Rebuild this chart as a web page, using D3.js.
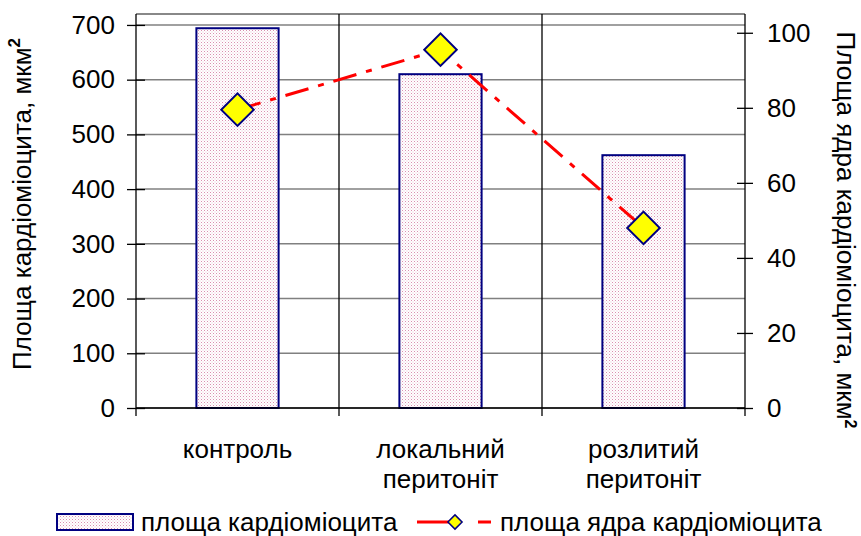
<!DOCTYPE html>
<html>
<head>
<meta charset="utf-8">
<script src="https://cdn.jsdelivr.net/npm/d3@7"></script>
<style>
  body { margin: 0; background: #fff; }
  text { font-family: "Liberation Sans", Arial, sans-serif; fill: #000; }
</style>
</head>
<body>
<div id="chart"></div>
<script>
// data
const categories = [["контроль"], ["локальний", "перитоніт"], ["розлитий", "перитоніт"]];
const cellArea = [694, 610, 462];      // площа кардіоміоцита, мкм2 (left axis)
const nucleusArea = [79.5, 95.5, 48];  // площа ядра кардіоміоцита, мкм2 (right axis)
const leftTicks = [0, 100, 200, 300, 400, 500, 600, 700];
const rightTicks = [0, 20, 40, 60, 80, 100];

const W = 861, H = 536;
const plot = {left: 136, right: 745, top: 14, bottom: 408};
const FS = "26px";

const svg = d3.select("#chart").append("svg")
    .attr("width", W).attr("height", H);

// dotted pink fill like the excel pattern
const pat = svg.append("defs").append("pattern")
    .attr("id", "dots").attr("patternUnits", "userSpaceOnUse")
    .attr("width", 3).attr("height", 3);
pat.append("rect").attr("width", 3).attr("height", 3).attr("fill", "#fff");
pat.append("rect").attr("x", 0).attr("y", 0).attr("width", 1).attr("height", 1).attr("fill", "#d98fb0");
pat.append("rect").attr("x", 1.5).attr("y", 1.5).attr("width", 1).attr("height", 1).attr("fill", "#e8c0d4");

const idx = categories.map((d, i) => i);
const x = d3.scaleBand().domain(idx).range([plot.left, plot.right]).paddingInner(0).paddingOuter(0);
const yL = d3.scaleLinear().domain([0, 720]).range([plot.bottom, plot.top]);
const yR = d3.scaleLinear().domain([0, 105]).range([plot.bottom, plot.top]);

// horizontal gridlines
svg.append("g").selectAll("line").data(leftTicks).join("line")
    .attr("x1", plot.left).attr("x2", plot.right)
    .attr("y1", d => yL(d)).attr("y2", d => yL(d))
    .attr("stroke", "#808080").attr("stroke-width", 1.5);

// top border
svg.append("line").attr("x1", plot.left).attr("x2", plot.right)
    .attr("y1", plot.top).attr("y2", plot.top)
    .attr("stroke", "#606060").attr("stroke-width", 1.5);

// vertical category separators (extend as ticks below axis)
svg.append("g").selectAll("line").data(idx.slice(1)).join("line")
    .attr("x1", d => x(d)).attr("x2", d => x(d))
    .attr("y1", plot.top).attr("y2", plot.bottom + 8)
    .attr("stroke", "#000").attr("stroke-width", 1.3);

// bars
const bw = x.bandwidth() * 0.405;
svg.append("g").selectAll("rect").data(cellArea).join("rect")
    .attr("x", (d, i) => x(i) + x.bandwidth() / 2 - bw / 2)
    .attr("width", bw)
    .attr("y", d => yL(d))
    .attr("height", d => yL(0) - yL(d))
    .attr("fill", "url(#dots)")
    .attr("stroke", "#000080").attr("stroke-width", 2);

// left axis
const gL = svg.append("g").attr("transform", `translate(${plot.left},0)`)
    .call(d3.axisLeft(yL).tickValues(leftTicks).tickSize(0).tickPadding(21));
gL.select(".domain").remove();
gL.selectAll("text").style("font-size", FS).attr("font-family", "Liberation Sans, Arial, sans-serif");
gL.selectAll(".tick").append("line").attr("x1", -9).attr("x2", 9).attr("stroke", "#000").attr("stroke-width", 1.3);
svg.append("line").attr("x1", plot.left).attr("x2", plot.left)
    .attr("y1", plot.top).attr("y2", plot.bottom + 8).attr("stroke", "#000").attr("stroke-width", 1.3);

// right axis
const gR = svg.append("g").attr("transform", `translate(${plot.right},0)`)
    .call(d3.axisRight(yR).tickValues(rightTicks).tickSize(0).tickPadding(22));
gR.select(".domain").remove();
gR.selectAll("text").style("font-size", FS).attr("font-family", "Liberation Sans, Arial, sans-serif");
gR.selectAll(".tick").append("line").attr("x1", -8).attr("x2", 8).attr("stroke", "#000").attr("stroke-width", 1.3);
svg.append("line").attr("x1", plot.right).attr("x2", plot.right)
    .attr("y1", plot.top).attr("y2", plot.bottom + 8).attr("stroke", "#000").attr("stroke-width", 1.3);

// bottom axis line
svg.append("line").attr("x1", plot.left).attr("x2", plot.right)
    .attr("y1", plot.bottom).attr("y2", plot.bottom).attr("stroke", "#000").attr("stroke-width", 1.5);

// category labels
const cat = svg.append("g").selectAll("text").data(categories).join("text")
    .attr("x", (d, i) => x(i) + x.bandwidth() / 2)
    .attr("y", 458)
    .attr("text-anchor", "middle")
    .style("font-size", FS);
cat.selectAll("tspan").data(d => d).join("tspan")
    .attr("x", function () { return this.parentNode.getAttribute("x"); })
    .attr("dy", (d, i) => i === 0 ? 0 : 30)
    .text(d => d);

// line series
const line = d3.line()
    .x((d, i) => x(i) + x.bandwidth() / 2)
    .y(d => yR(d));
svg.append("path").datum(nucleusArea)
    .attr("d", line)
    .attr("fill", "none").attr("stroke", "#ff0000").attr("stroke-width", 3)
    .attr("stroke-dasharray", "24,10,6,10");

const diamond = d3.symbol().type(d3.symbolSquare).size(23 * 23);
svg.append("g").selectAll("path").data(nucleusArea).join("path")
    .attr("d", diamond)
    .attr("transform", (d, i) => `translate(${x(i) + x.bandwidth() / 2},${yR(d)}) rotate(45)`)
    .attr("fill", "#ffff00").attr("stroke", "#000080").attr("stroke-width", 2);

// axis titles
const tL = svg.append("text")
    .attr("transform", "translate(31,204) rotate(-90)")
    .attr("text-anchor", "middle")
    .style("font-size", FS);
tL.append("tspan").text("Площа кардіоміоцита, мкм");
tL.append("tspan").attr("dy", -11).style("font-size", "17px").style("font-weight", "bold").text("2");

const tR = svg.append("text")
    .attr("transform", "translate(837,230) rotate(90)")
    .attr("text-anchor", "middle")
    .style("font-size", FS);
tR.append("tspan").text("Площа ядра кардіоміоцита, мкм");
tR.append("tspan").attr("dy", -8).style("font-size", "16px").style("font-weight", "bold").text("2");

// legend
const lg = svg.append("g");
lg.append("rect").attr("x", 57).attr("y", 514).attr("width", 76).attr("height", 16)
    .attr("fill", "url(#dots)").attr("stroke", "#000080").attr("stroke-width", 2);
lg.append("text").attr("x", 141).attr("y", 531).style("font-size", FS).text("площа кардіоміоцита");
lg.append("line").attr("x1", 417).attr("x2", 491).attr("y1", 522).attr("y2", 522)
    .attr("stroke", "#ff0000").attr("stroke-width", 3).attr("stroke-dasharray", "32,29,13");
lg.append("path").attr("d", d3.symbol().type(d3.symbolSquare).size(10 * 10))
    .attr("transform", "translate(455,522) rotate(45)")
    .attr("fill", "#ffff00").attr("stroke", "#000080").attr("stroke-width", 1.5);
lg.append("text").attr("x", 500).attr("y", 531).style("font-size", FS).text("площа ядра кардіоміоцита");
</script>
</body>
</html>
